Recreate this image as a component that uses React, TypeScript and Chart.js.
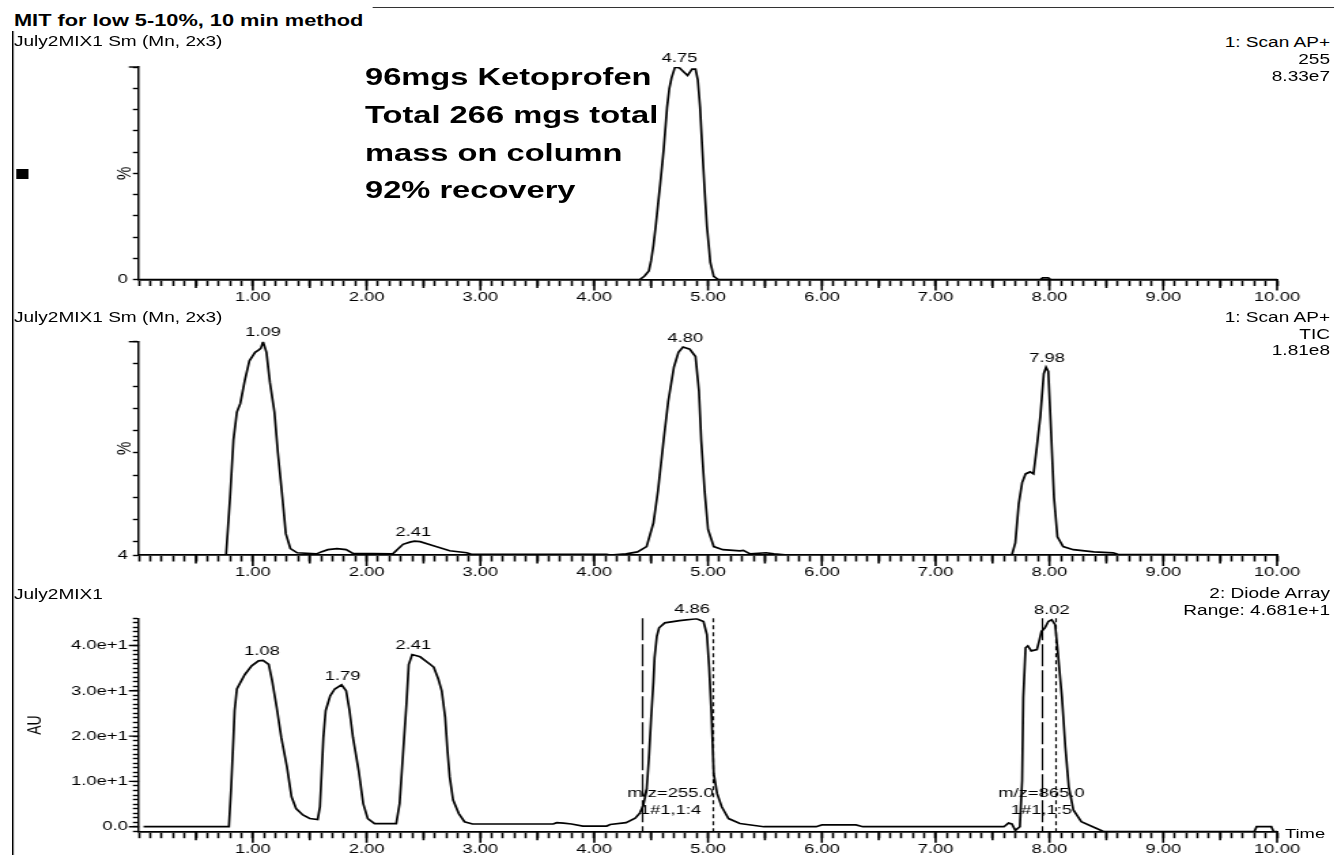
import React, { useEffect, useRef } from 'react';
import { Chart, registerables } from 'chart.js';

Chart.register(...registerables);

const FONT = "'Liberation Sans', Arial, Helvetica, sans-serif";
const S = 1.36; // horizontal stretch of the reference picture
const W = 981; // unscaled canvas width

// ---------- data ----------
// Panel 1: Scan AP+ m/z 255 (%)
const scanTimes = [0, 4.4, 4.44, 4.48, 4.5, 4.52, 4.54, 4.56, 4.58, 4.61, 4.64, 4.66, 4.68, 4.71, 4.75, 4.78, 4.82, 4.86, 4.89, 4.91, 4.93, 4.95, 4.97, 4.99, 5.01, 5.02, 5.05, 5.09, 7.92, 7.94, 7.99, 8.01, 10];
const scanValues = [0, 0, 1.5, 4, 9, 16, 25, 35, 45, 61, 81, 90, 95, 100, 99.5, 98, 96, 99, 99, 94, 81, 61, 42, 25, 14, 8, 1.5, 0, 0, 0.8, 0.8, 0, 0];

// Panel 2: Scan AP+ TIC (%)
const ticTimes = [0, 0.765, 0.8, 0.83, 0.86, 0.89, 0.93, 0.97, 1.02, 1.05, 1.07, 1.09, 1.12, 1.15, 1.19, 1.22, 1.26, 1.29, 1.33, 1.39, 1.56, 1.6, 1.66, 1.74, 1.82, 1.88, 2.23, 2.28, 2.32, 2.38, 2.42, 2.47, 2.58, 2.73, 2.88, 2.92, 4.11, 4.14, 4.28, 4.38, 4.46, 4.52, 4.56, 4.61, 4.65, 4.7, 4.74, 4.78, 4.84, 4.89, 4.92, 4.94, 4.97, 5.0, 5.05, 5.13, 5.28, 5.31, 5.37, 5.51, 5.58, 5.7, 7.67, 7.7, 7.73, 7.76, 7.79, 7.83, 7.86, 7.89, 7.92, 7.95, 7.97, 7.99, 8.01, 8.04, 8.07, 8.12, 8.21, 8.39, 8.56, 8.6, 10];
const ticValues = [4, 4, 29.9, 55.8, 68.3, 72.2, 82.7, 91.4, 95.2, 96.2, 97, 100, 95.2, 81.8, 68.3, 50.1, 29.9, 13.6, 6.9, 5, 4.5, 5.4, 6.4, 6.9, 6.4, 4.7, 4.5, 6.9, 8.8, 9.8, 10.2, 10, 8.3, 5.9, 5, 4.3, 4.3, 4, 4.5, 5.4, 7.8, 18.4, 32.8, 55.8, 73.1, 88.5, 95.2, 97.6, 96.6, 93.3, 77.9, 55.8, 32.8, 15.5, 7.8, 6.4, 5.9, 6.1, 4.5, 5, 4.5, 4, 4, 9.4, 27, 36.6, 40.5, 41.4, 40.5, 53, 66.4, 85.6, 88.5, 86.6, 64.5, 29.9, 12.2, 7.8, 6.4, 5.4, 5, 4.3, 4];

// Panel 3: Diode Array (AU)
const pdaTimes = [0.04, 0.79, 0.81, 0.83, 0.84, 0.86, 0.89, 0.93, 0.99, 1.05, 1.09, 1.14, 1.17, 1.21, 1.25, 1.3, 1.34, 1.38, 1.44, 1.5, 1.57, 1.59, 1.6, 1.62, 1.64, 1.68, 1.72, 1.78, 1.82, 1.85, 1.88, 1.93, 1.97, 2.01, 2.07, 2.26, 2.29, 2.32, 2.35, 2.37, 2.4, 2.47, 2.56, 2.59, 2.63, 2.66, 2.69, 2.71, 2.73, 2.76, 2.81, 2.86, 2.93, 3.64, 3.67, 3.73, 3.8, 3.9, 4.11, 4.14, 4.28, 4.36, 4.4, 4.43, 4.46, 4.48, 4.5, 4.52, 4.53, 4.55, 4.57, 4.62, 4.75, 4.9, 4.96, 4.99, 5.01, 5.03, 5.05, 5.08, 5.12, 5.18, 5.28, 5.49, 5.95, 6.0, 6.3, 6.36, 7.6, 7.64, 7.67, 7.7, 7.74, 7.76, 7.77, 7.79, 7.81, 7.84, 7.89, 7.91, 7.93, 7.96, 7.99, 8.02, 8.05, 8.07, 8.11, 8.14, 8.17, 8.21, 8.28, 8.38, 8.48, 9.8, 9.82, 9.95, 9.97, 10];
const pdaValues = [0, 0, 8.8, 19.7, 25.6, 30.4, 31.8, 33.6, 35.5, 36.6, 36.7, 35.8, 32.2, 26.3, 19.7, 13.2, 6.6, 4, 2.6, 1.8, 1.6, 4.4, 9.5, 19.7, 25.6, 28.9, 30.4, 31.3, 30, 25.6, 19.7, 12.4, 5.1, 1.8, 0.7, 0.7, 5.1, 16.1, 27.1, 35.8, 38, 37.5, 35.8, 35.2, 32.6, 30, 24.2, 16.9, 11, 5.9, 2.9, 1.1, 0.6, 0.6, 0.9, 0.8, 0.6, 0.15, 0.15, 0.5, 0.9, 1.9, 3, 4.6, 8, 15, 24, 32, 37.3, 42, 43.9, 45, 45.5, 45.9, 45.3, 42.4, 35.1, 24.9, 11.7, 7.3, 4.4, 1.8, 0.7, 0, 0, 0.4, 0.4, 0, 0, 0.8, 0.6, -0.8, 0, 10.2, 28.5, 39.5, 39.9, 38.8, 39.1, 41, 43.1, 43.9, 45.3, 45.7, 44.6, 39.5, 28.5, 17.5, 8.8, 3.7, 1.1, 0, -1.1, -1.1, 0, 0, -1.1, -1.1];

// Peak annotations
const scanPeakTimes = [4.75];
const scanPeakValues = [100];
const scanPeakTexts = ['4.75'];
const ticPeakTimes = [1.09, 2.41, 4.8, 7.98];
const ticPeakValues = [100, 10.2, 97.6, 88.5];
const ticPeakTexts = ['1.09', '2.41', '4.80', '7.98'];
const pdaPeakTimes = [1.08, 1.79, 2.41, 4.86, 8.02];
const pdaPeakValues = [36.7, 31.3, 38.0, 45.9, 45.7];
const pdaPeakTexts = ['1.08', '1.79', '2.41', '4.86', '8.02'];

// Integration markers on the diode array trace
const markerStarts = [4.43, 7.94];
const markerEnds = [5.05, 8.06];
const markerMz = ['m/z=255.0', 'm/z=865.0'];
const markerIds = ['1#1,1:4', '1#1,1:5'];

// Axis ticks
const xTickValues = [1, 2, 3, 4, 5, 6, 7, 8, 9, 10];
const xTickLabels = ['1.00', '2.00', '3.00', '4.00', '5.00', '6.00', '7.00', '8.00', '9.00', '10.00'];
const scanYTickValues = [0];
const scanYTickLabels = ['0'];
const ticYTickValues = [4];
const ticYTickLabels = ['4'];
const pdaYTickValues = [0, 10, 20, 30, 40];
const pdaYTickLabels = ['0.0', '1.0e+1', '2.0e+1', '3.0e+1', '4.0e+1'];

type PanelSpec = {
  times: number[];
  values: number[];
  yMin: number;
  yMax: number;
  yStep: number;
  yLabelValues: number[];
  yLabelTexts: string[];
  yMajor: number[];
  yTitle: string;
  yTitleSize: number;
  yWidth: number;
  padLeft: number;
  padTop: number;
  xHeight: number;
  peakTimes: number[];
  peakValues: number[];
  peakTexts: string[];
  markers?: boolean;
};

const near = (a: number, b: number) => Math.abs(a - b) < 1e-6;
const align = (p: number) => Math.round(p - 0.5) + 0.5;

function decorPlugin(p: PanelSpec) {
  return {
    id: 'decor',
    afterDraw(chart: any) {
      const { ctx, chartArea } = chart;
      const xs = chart.scales.x;
      const ys = chart.scales.y;
      ctx.save();
      ctx.strokeStyle = '#000';
      ctx.lineWidth = 1.6;
      // longer major / half ticks on the time axis
      ctx.beginPath();
      for (const tk of xs.ticks) {
        const v = tk.value;
        if (v <= 0) continue;
        const whole = near(v, Math.round(v));
        const half = near(v * 2, Math.round(v * 2));
        if (!whole && !half) continue;
        const px = xs.getPixelForValue(v);
        ctx.moveTo(px, chartArea.bottom);
        ctx.lineTo(px, chartArea.bottom + (whole ? 11 : 8.5));
      }
      ctx.stroke();
      // longer major ticks on the intensity axis
      ctx.lineWidth = 1.4;
      ctx.beginPath();
      for (const tk of ys.ticks) {
        if (!p.yMajor.some((m) => near(m, tk.value))) continue;
        const py = ys.getPixelForValue(tk.value);
        ctx.moveTo(chartArea.left, py);
        ctx.lineTo(chartArea.left - 7.5, py);
      }
      ctx.stroke();
      // peak labels
      ctx.fillStyle = '#000';
      ctx.font = `13.5px ${FONT}`;
      ctx.textAlign = 'center';
      ctx.textBaseline = 'middle';
      p.peakTimes.forEach((t, i) => {
        ctx.fillText(p.peakTexts[i], xs.getPixelForValue(t), ys.getPixelForValue(p.peakValues[i]) - 9);
      });
      // integration markers
      if (p.markers) {
        ctx.lineWidth = 1.2;
        markerStarts.forEach((s, i) => {
          const e = markerEnds[i];
          const x1 = align(xs.getPixelForValue(s));
          const x2 = align(xs.getPixelForValue(e));
          ctx.setLineDash([22, 4]);
          ctx.beginPath();
          ctx.moveTo(x1, chartArea.top);
          ctx.lineTo(x1, chartArea.bottom);
          ctx.stroke();
          ctx.setLineDash([4, 3]);
          ctx.beginPath();
          ctx.moveTo(x2, chartArea.top);
          ctx.lineTo(x2, chartArea.bottom);
          ctx.stroke();
          ctx.setLineDash([]);
          const cx = xs.getPixelForValue((s + e) / 2 - 0.07);
          ctx.fillText(markerMz[i], cx, chartArea.bottom - 38);
          ctx.fillText(markerIds[i], cx, chartArea.bottom - 21);
        });
      }
      ctx.restore();
    },
  };
}

function buildConfig(p: PanelSpec): any {
  return {
    type: 'line',
    data: {
      datasets: [
        {
          data: p.times.map((t, i) => ({ x: t, y: p.values[i] })),
          borderColor: '#000',
          borderWidth: 1.7,
          pointRadius: 0,
          fill: false,
          tension: 0,
        },
      ],
    },
    options: {
      animation: false,
      responsive: false,
      events: [],
      layout: { padding: { left: p.padLeft, top: p.padTop, right: W - 939, bottom: 0 } },
      plugins: { legend: { display: false }, tooltip: { enabled: false } },
      scales: {
        x: {
          type: 'linear',
          min: 0,
          max: 10,
          afterFit: (sc: any) => {
            sc.height = p.xHeight;
          },
          border: { display: true, color: '#000', width: 1.8 },
          grid: { display: true, drawOnChartArea: false, drawTicks: true, tickLength: 6.5, tickColor: '#000', tickWidth: 1.6 },
          ticks: {
            stepSize: 0.1,
            autoSkip: false,
            maxRotation: 0,
            minRotation: 0,
            padding: 3,
            color: '#000',
            font: { size: 13.5, family: FONT },
            callback: (v: number) => {
              const i = xTickValues.findIndex((t) => near(t, v));
              return i >= 0 ? xTickLabels[i] : '';
            },
          },
        },
        y: {
          type: 'linear',
          min: p.yMin,
          max: p.yMax,
          afterFit: (sc: any) => {
            sc.width = p.yWidth;
          },
          border: { display: true, color: '#000', width: 1.5 },
          grid: { display: true, drawOnChartArea: false, drawTicks: true, tickLength: 4.5, tickColor: '#000', tickWidth: 1.4 },
          ticks: {
            stepSize: p.yStep,
            autoSkip: false,
            padding: 3.8,
            color: '#000',
            font: { size: 13.5, family: FONT },
            callback: (v: number) => {
              const i = p.yLabelValues.findIndex((t) => near(t, v));
              return i >= 0 ? p.yLabelTexts[i] : '';
            },
          },
          title: {
            display: true,
            text: p.yTitle,
            padding: 0,
            color: '#000',
            font: { size: p.yTitleSize, family: FONT },
          },
        },
      },
    },
    plugins: [decorPlugin(p)],
  };
}

const panels: PanelSpec[] = [
  {
    times: scanTimes, values: scanValues, yMin: 0, yMax: 100, yStep: 10,
    yLabelValues: scanYTickValues, yLabelTexts: scanYTickLabels, yMajor: [100],
    yTitle: '%', yTitleSize: 15, yWidth: 19.5, padLeft: 82.7, padTop: 17, xHeight: 30.5,
    peakTimes: scanPeakTimes, peakValues: scanPeakValues, peakTexts: scanPeakTexts,
  },
  {
    times: ticTimes, values: ticValues, yMin: 4, yMax: 100, yStep: 10,
    yLabelValues: ticYTickValues, yLabelTexts: ticYTickLabels, yMajor: [100],
    yTitle: '%', yTitleSize: 15, yWidth: 19.5, padLeft: 82.7, padTop: 19.7, xHeight: 27,
    peakTimes: ticPeakTimes, peakValues: ticPeakValues, peakTexts: ticPeakTexts,
  },
  {
    times: pdaTimes, values: pdaValues, yMin: -1.1, yMax: 46, yStep: 1,
    yLabelValues: pdaYTickValues, yLabelTexts: pdaYTickLabels, yMajor: pdaYTickValues,
    yTitle: 'AU', yTitleSize: 14, yWidth: 84.9, padLeft: 17.3, padTop: 18.3, xHeight: 23.3,
    peakTimes: pdaPeakTimes, peakValues: pdaPeakValues, peakTexts: pdaPeakTexts, markers: true,
  },
];

const canvasTops = [50, 322, 600];
const canvasHeights = [260, 260, 255];

const u = (refX: number) => refX / S;

const txt = (left: number, top: number, size: number, text: string, bold = false): React.ReactElement => (
  <div
    key={`${text}-${top}`}
    style={{ position: 'absolute', left, top, fontSize: size, lineHeight: 1, fontWeight: bold ? 'bold' : 'normal', whiteSpace: 'nowrap' }}
  >
    {text}
  </div>
);

const rtxt = (top: number, size: number, text: string): React.ReactElement => (
  <div
    key={`r-${text}-${top}`}
    style={{ position: 'absolute', right: W - u(1330), top, fontSize: size, lineHeight: 1, whiteSpace: 'nowrap', textAlign: 'right' }}
  >
    {text}
  </div>
);

export default function App() {
  const r1 = useRef<HTMLCanvasElement>(null);
  const r2 = useRef<HTMLCanvasElement>(null);
  const r3 = useRef<HTMLCanvasElement>(null);

  useEffect(() => {
    document.body.style.overflow = 'hidden';
    Chart.defaults.font.family = FONT;
    Chart.defaults.color = '#000';
    const refs = [r1, r2, r3];
    const charts = panels.map((p, i) => new Chart(refs[i].current as HTMLCanvasElement, buildConfig(p)));
    return () => charts.forEach((c) => c.destroy());
  }, []);

  const refs = [r1, r2, r3];

  return (
    <div
      style={{
        position: 'absolute', left: 0, top: 0, width: W, height: 855, overflow: 'hidden',
        transform: `scaleX(${S})`, transformOrigin: '0 0', fontFamily: FONT, color: '#000', background: '#fff',
      }}
    >
      {refs.map((r, i) => (
        <canvas key={i} ref={r} width={W} height={canvasHeights[i]} style={{ position: 'absolute', left: 0, top: canvasTops[i] }} />
      ))}
      {/* frame lines and marker square */}
      <div style={{ position: 'absolute', left: u(12), top: 31, width: 1.2, height: 824, background: '#000' }} />
      <div style={{ position: 'absolute', left: u(372), top: 6.7, width: W - u(372), height: 1.5, background: '#333' }} />
      <div style={{ position: 'absolute', left: u(16), top: 168.5, width: u(12), height: 10, background: '#000' }} />

      {txt(u(14), 12.9, 16, 'MIT for low 5-10%, 10 min method', true)}

      {txt(u(14), 34.2, 14, 'July2MIX1 Sm (Mn, 2x3)')}
      {rtxt(35.2, 14, '1: Scan AP+')}
      {rtxt(51.9, 14, '255')}
      {rtxt(68.6, 14, '8.33e7')}

      {txt(u(14), 309.9, 14, 'July2MIX1 Sm (Mn, 2x3)')}
      {rtxt(309.9, 14, '1: Scan AP+')}
      {rtxt(326.6, 14, 'TIC')}
      {rtxt(343.3, 14, '1.81e8')}

      {txt(u(14), 586.5, 14, 'July2MIX1')}
      {rtxt(586.2, 14, '2: Diode Array')}
      {rtxt(602.9, 14, 'Range: 4.681e+1')}

      {txt(u(1285), 826.5, 13.5, 'Time')}

      <div
        style={{ position: 'absolute', left: u(365), top: 58.3, fontSize: 24, lineHeight: '37.7px', fontWeight: 'bold', whiteSpace: 'nowrap' }}
      >
        <div>96mgs Ketoprofen</div>
        <div>Total 266 mgs total</div>
        <div>mass on column</div>
        <div>92% recovery</div>
      </div>
    </div>
  );
}
